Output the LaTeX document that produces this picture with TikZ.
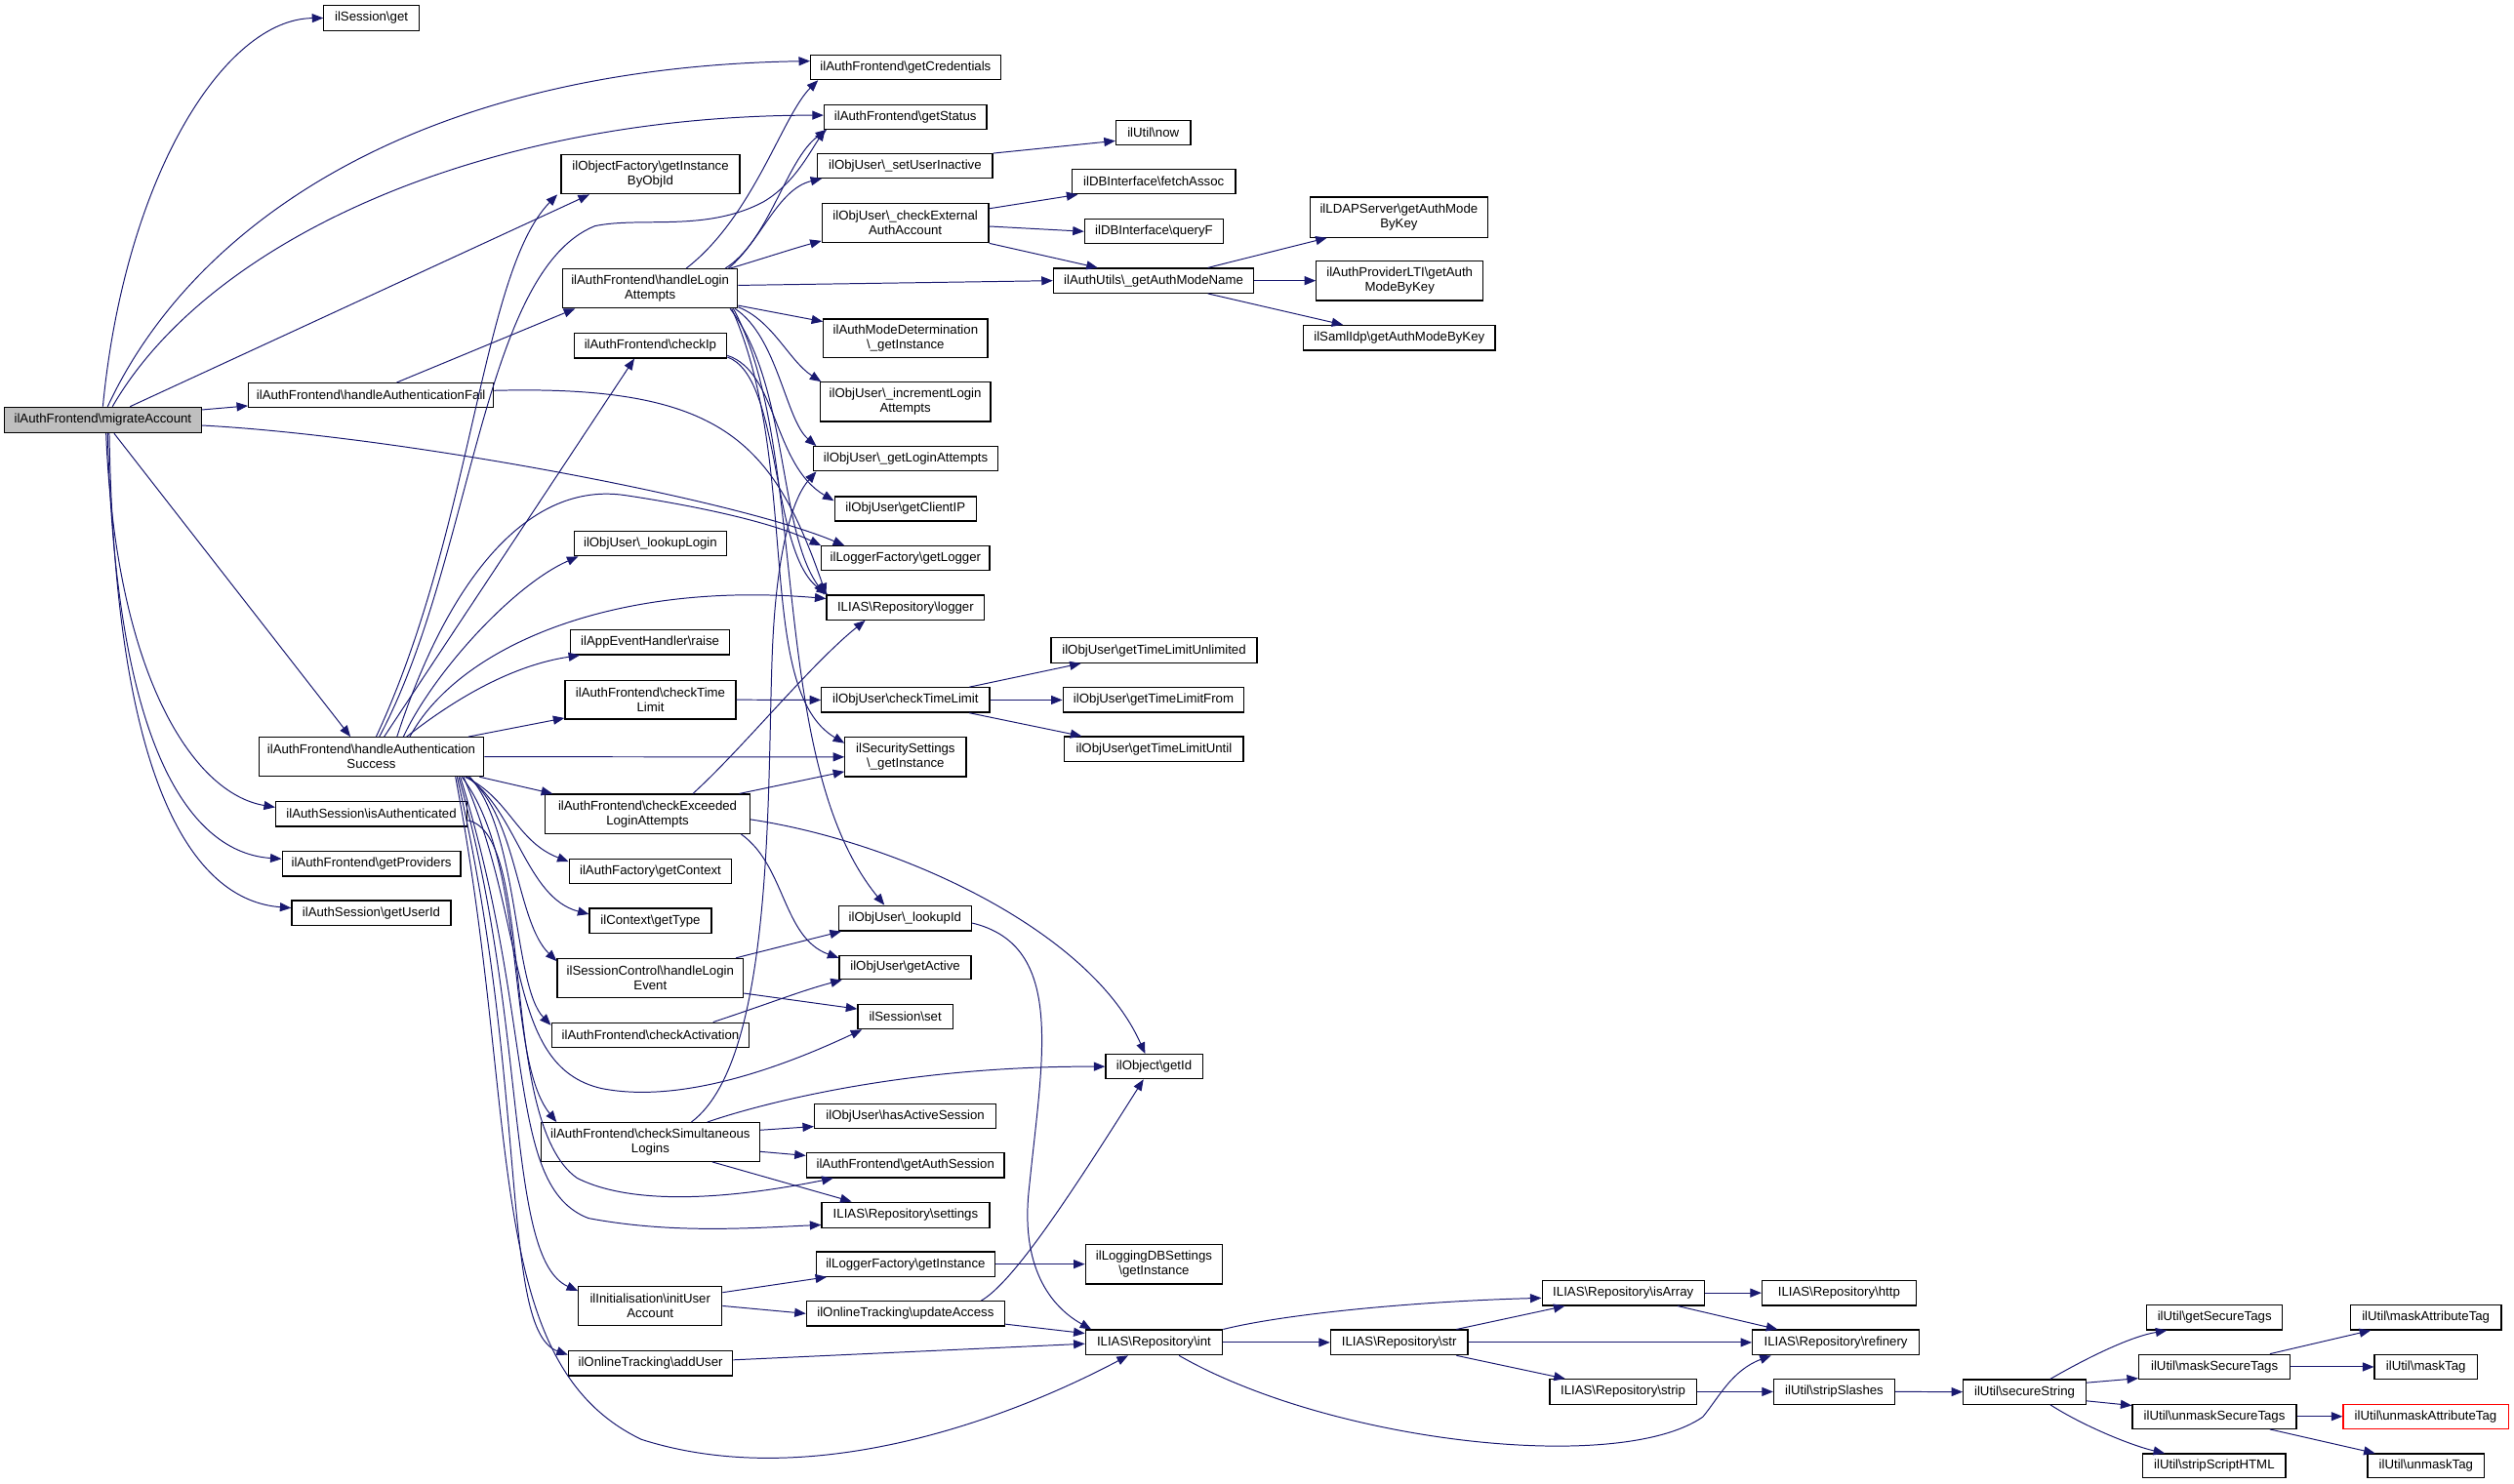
\documentclass[tikz,border=0pt]{standalone}
\usepackage{fontspec}
\setmainfont{Liberation Sans}
\usetikzlibrary{arrows.meta,calc}
\definecolor{edgec}{HTML}{191970}
\newcommand\BSL{\textbackslash}
\newcommand\bx[7][]{\pgfmathsetmacro\boxWd{#5-#3}\pgfmathsetmacro\boxHt{#6-#4}%
  \node[box,minimum width=\boxWd pt,minimum height=\boxHt pt,#1] (#2) at ({(#3+#5)/2},{(#4+#6)/2}) {#7};}
\tikzset{
  box/.style={draw=black,line width=0.75pt,fill=white,inner sep=0pt,align=center,
    font=\fontsize{8.05}{9.2}\selectfont},
  e/.style={draw=edgec,line width=0.6pt,-{Triangle[length=7pt,width=5.5pt]}},
}
\begin{document}
\begin{tikzpicture}[x=1pt,y=-1pt]
\useasboundingbox (0,0) rectangle (1568,925.8);
% ---------- nodes ----------
\bx[fill=black!25]{ma}{2.6}{254}{125.7}{270}{ilAuthFrontend\BSL migrateAccount}
\bx{sessGet}{202}{3.5}{261.3}{19}{ilSession\BSL get}
\bx{getCred}{505.6}{34.5}{624}{49.7}{ilAuthFrontend\BSL getCredentials}
\bx{getStatus}{514}{65.3}{615.4}{80.5}{ilAuthFrontend\BSL getStatus}
\bx{objFac}{350}{96.6}{461.4}{121}{ilObjectFactory\BSL getInstance\\ByObjId}
\bx{setInact}{510}{96}{619}{111}{ilObjUser\BSL\_setUserInactive}
\bx{now}{696}{75}{742.6}{90.5}{ilUtil\BSL now}
\bx{fetch}{668.6}{105.7}{770.6}{121}{ilDBInterface\BSL fetchAssoc}
\bx{checkExt}{512.7}{127}{616.6}{151.4}{ilObjUser\BSL\_checkExternal\\AuthAccount}
\bx{queryF}{676.5}{136.8}{763}{152}{ilDBInterface\BSL queryF}
\bx{ldap}{817}{123}{928}{148}{ilLDAPServer\BSL getAuthMode\\ByKey}
\bx{modeName}{657}{167.4}{782}{182.8}{ilAuthUtils\BSL\_getAuthModeName}
\bx{lti}{821}{162.7}{925}{187.5}{ilAuthProviderLTI\BSL getAuth\\ModeByKey}
\bx{saml}{813}{203}{932.5}{218.5}{ilSamlIdp\BSL getAuthModeByKey}
\bx{hla}{351}{167.8}{460}{192.2}{ilAuthFrontend\BSL handleLogin\\Attempts}
\bx{modeDet}{513.6}{199}{616}{223}{ilAuthModeDetermination\\\BSL\_getInstance}
\bx{checkIp}{358}{208}{453.3}{223.4}{ilAuthFrontend\BSL checkIp}
\bx{incLogin}{511.5}{238.5}{617.8}{263}{ilObjUser\BSL\_incrementLogin\\Attempts}
\bx{af}{155}{239}{307.8}{254.3}{ilAuthFrontend\BSL handleAuthenticationFail}
\bx{getLoginAtt}{507.5}{278.6}{622.3}{293.8}{ilObjUser\BSL\_getLoginAttempts}
\bx{clientIP}{520.5}{309.8}{609}{325}{ilObjUser\BSL getClientIP}
\bx{getLogger}{512.4}{340.7}{617.2}{356}{ilLoggerFactory\BSL getLogger}
\bx{lookupLogin}{358}{331.5}{453.3}{346.8}{ilObjUser\BSL\_lookupLogin}
\bx{logger}{515.6}{371.3}{614}{386.7}{ILIAS\BSL Repository\BSL logger}
\bx{raise}{356}{393}{455}{408.4}{ilAppEventHandler\BSL raise}
\bx{tlUnl}{655.6}{398}{784}{413.5}{ilObjUser\BSL getTimeLimitUnlimited}
\bx{checkTimeAF}{352.4}{424.5}{459}{448.6}{ilAuthFrontend\BSL checkTime\\Limit}
\bx{checkTimeOU}{512.4}{429}{617.2}{444.4}{ilObjUser\BSL checkTimeLimit}
\bx{tlFrom}{663}{429}{776}{444.4}{ilObjUser\BSL getTimeLimitFrom}
\bx{tlUntil}{664}{459.6}{775.5}{475}{ilObjUser\BSL getTimeLimitUntil}
\bx{has}{161.5}{460}{301.7}{484.3}{ilAuthFrontend\BSL handleAuthentication\\Success}
\bx{secSet}{527}{460}{602.6}{484.5}{ilSecuritySettings\\\BSL\_getInstance}
\bx{isAuth}{172}{500}{291.3}{515.6}{ilAuthSession\BSL isAuthenticated}
\bx{checkExc}{340}{495.5}{467.8}{520}{ilAuthFrontend\BSL checkExceeded\\LoginAttempts}
\bx{getProv}{176}{531.2}{287.3}{546.6}{ilAuthFrontend\BSL getProviders}
\bx{getContext}{355}{535.9}{456.4}{551.3}{ilAuthFactory\BSL getContext}
\bx{getUserId}{182}{561.8}{281.2}{577.5}{ilAuthSession\BSL getUserId}
\bx{lookupId}{523}{565}{606}{580.7}{ilObjUser\BSL\_lookupId}
\bx{getType}{367.7}{566.7}{443.7}{582}{ilContext\BSL getType}
\bx{getActive}{523.5}{596}{605.7}{611}{ilObjUser\BSL getActive}
\bx{loginEvent}{347.6}{598}{463.6}{622.3}{ilSessionControl\BSL handleLogin\\Event}
\bx{sessSet}{535}{626.8}{594.3}{642}{ilSession\BSL set}
\bx{checkAct}{344}{638}{467.4}{653.5}{ilAuthFrontend\BSL checkActivation}
\bx{getId}{689.6}{657.8}{750}{673}{ilObject\BSL getId}
\bx{hasActive}{508}{688.5}{621.3}{704}{ilObjUser\BSL hasActiveSession}
\bx{checkSim}{337.5}{700.4}{473.8}{724.5}{ilAuthFrontend\BSL checkSimultaneous\\Logins}
\bx{getAuthSess}{503}{719.3}{626.4}{734.7}{ilAuthFrontend\BSL getAuthSession}
\bx{settings}{512.5}{750}{617.2}{765.8}{ILIAS\BSL Repository\BSL settings}
\bx{lfInst}{509}{781}{620.6}{796.3}{ilLoggerFactory\BSL getInstance}
\bx{ldbs}{677}{776.3}{762.5}{801}{ilLoggingDBSettings\\\BSL getInstance}
\bx{initUser}{360.8}{802.7}{450.3}{826.7}{ilInitialisation\BSL initUser\\Account}
\bx{updAcc}{503}{811.8}{626.6}{827.2}{ilOnlineTracking\BSL updateAccess}
\bx{isArr}{961.8}{798.8}{1063}{814.4}{ILIAS\BSL Repository\BSL isArray}
\bx{http}{1099}{798.8}{1195}{814.4}{ILIAS\BSL Repository\BSL http}
\bx{intN}{677}{829.7}{762.5}{845.3}{ILIAS\BSL Repository\BSL int}
\bx{strN}{829.9}{829.7}{915.5}{845.3}{ILIAS\BSL Repository\BSL str}
\bx{refinery}{1093}{829.7}{1197}{845.3}{ILIAS\BSL Repository\BSL refinery}
\bx{addUser}{354.5}{842.6}{457}{858.2}{ilOnlineTracking\BSL addUser}
\bx{strip}{966.6}{860.5}{1058}{876}{ILIAS\BSL Repository\BSL strip}
\bx{stripSl}{1106.3}{860.5}{1181.8}{876}{ilUtil\BSL stripSlashes}
\bx{secStr}{1224.5}{860.7}{1301}{876}{ilUtil\BSL secureString}
\bx{getSecTags}{1338.9}{814.2}{1423.6}{829.6}{ilUtil\BSL getSecureTags}
\bx{maskSec}{1334}{845}{1428.4}{860.5}{ilUtil\BSL maskSecureTags}
\bx{unmaskSec}{1330}{876}{1432.3}{891.3}{ilUtil\BSL unmaskSecureTags}
\bx{stripScript}{1336.5}{907}{1425.6}{922}{ilUtil\BSL stripScriptHTML}
\bx{maskAttr}{1466}{814}{1560}{829.6}{ilUtil\BSL maskAttributeTag}
\bx{maskTag}{1481}{845}{1545}{860.5}{ilUtil\BSL maskTag}
\bx[draw=red]{unmaskAttr}{1461.4}{876}{1564.4}{891.3}{ilUtil\BSL unmaskAttributeTag}
\bx{unmaskTag}{1476.7}{907}{1549.5}{922}{ilUtil\BSL unmaskTag}
% ---------- edges: migrateAccount ----------
\draw[e] (ma.north) .. controls (78,110) and (140,12) .. (sessGet.west);
\draw[e] ([xshift=3]ma.north) .. controls (120,140) and (260,42) .. ([yshift=4]getCred.west);
\draw[e] ([xshift=6]ma.north) .. controls (130,150) and (300,72) .. ([yshift=1]getStatus.west);
\draw[e] ([xshift=17]ma.north) -- ([xshift=18]objFac.south west);
\draw[e] ([yshift=-2]ma.north east) -- ([yshift=1.5]af.south west);
\draw[e] ([yshift=-3.4]ma.east) .. controls (250,272) and (460,312) .. ([xshift=14.6]getLogger.north west);
\draw[e] ([xshift=7]ma.south) -- ([xshift=-13]has.north);
\draw[e] ([xshift=2]ma.south) .. controls (72,420) and (120,495) .. ([yshift=-4]isAuth.north west);
\draw[e] ([xshift=3]ma.south) .. controls (72,470) and (120,532) .. ([yshift=-5]getProv.north west);
\draw[e] ([xshift=4]ma.south) .. controls (72,500) and (125,562) .. ([yshift=-5]getUserId.north west);
% ---------- handleAuthenticationFail ----------
\draw[e] ([xshift=16]af.north) -- ([xshift=8]hla.south west);
\draw[e] ([yshift=3]af.east) .. controls (450,240) and (482,275) .. (logger.north west);
% ---------- handleLoginAttempts ----------
\draw[e] ([xshift=22.5]hla.north) .. controls (470,135) and (488,72) .. ([xshift=5]getCred.south west);
\draw[e] ([xshift=-8]hla.north east) .. controls (480,150) and (490,100) .. ([xshift=2]getStatus.south west);
\draw[e] ([xshift=-6]hla.north east) .. controls (475,150) and (485,118) .. ([xshift=3]setInact.south west);
\draw[e] ([xshift=-5]hla.north east) .. controls (480,160) and (495,155) .. ([yshift=1.5]checkExt.south west);
\draw[e] ([yshift=2]hla.east) -- (modeName.west);
\draw[e] ([yshift=2]hla.south east) -- ([yshift=-2]modeDet.north west);
\draw[e] ([yshift=1]hla.south east) .. controls (482,200) and (492,225) .. ([xshift=1]incLogin.north west);
\draw[e] ([xshift=-2]hla.south east) .. controls (485,210) and (490,262) .. ([xshift=2]getLoginAtt.north west);
\draw[e] ([xshift=-3]hla.south east) .. controls (505,280) and (478,475) .. ([xshift=29]lookupId.north west);
\draw[e] ([xshift=-4]hla.south east) .. controls (500,290) and (470,430) .. ([yshift=-4]secSet.north west);
\draw[e] ([xshift=-5]hla.south east) .. controls (492,240) and (485,330) .. ([xshift=-1]logger.north west);
% ---------- checkIp ----------
\draw[e] ([yshift=2]checkIp.south east) .. controls (485,232) and (482,290) .. ([yshift=-3]clientIP.north west);
\draw[e] ([yshift=1]checkIp.south east) .. controls (488,235) and (480,345) .. ([xshift=1]logger.north west);
% ---------- handleAuthenticationSuccess ----------
\draw[e] ([xshift=5]has.north) .. controls (295,350) and (300,170) .. (371,141) .. controls (400,135) and (440,145) .. (476,126) .. controls (495,115) and (505,95) .. ([xshift=1]getStatus.south west);
\draw[e] ([xshift=3]has.north) .. controls (295,330) and (300,170) .. ([xshift=-2]objFac.south west);
\draw[e] ([xshift=8]has.north) -- ([xshift=-10]checkIp.south);
\draw[e] ([xshift=16]has.north) .. controls (280,360) and (330,300) .. (390,309) .. controls (430,315) and (480,325) .. (getLogger.north west);
\draw[e] ([xshift=20]has.north) .. controls (270,420) and (320,365) .. ([xshift=3]lookupLogin.south west);
\draw[e] ([xshift=24]has.north) .. controls (285,405) and (380,362) .. ([yshift=-2.5]logger.north west);
\draw[e] ([xshift=22]has.north) .. controls (285,435) and (320,415) .. ([xshift=6]raise.south west);
\draw[e] ([xshift=-10]has.north east) -- ([yshift=1]checkTimeAF.south west);
\draw[e] (has.east) -- (secSet.west);
\draw[e] ([xshift=-3]has.south east) -- ([xshift=5]checkExc.north west);
\draw[e] ([xshift=-12]has.south east) .. controls (318,498) and (322,525) .. ([yshift=-2]getContext.north west);
\draw[e] ([xshift=-11]has.south east) .. controls (322,505) and (328,560) .. ([yshift=-4]getType.north west);
\draw[e] ([xshift=-10]has.south east) .. controls (323,510) and (322,575) .. ([yshift=-2]loginEvent.north west);
\draw[e] ([xshift=-9]has.south east) .. controls (324,520) and (320,615) .. ([yshift=-2]checkAct.north west);
\draw[e] ([xshift=-14]has.south east) .. controls (330,540) and (315,660) .. ([xshift=10]checkSim.north west);
\draw[e] ([xshift=-13]has.south east) .. controls (330,580) and (315,665) .. (375,679) .. controls (430,690) and (500,660) .. ([xshift=3]sessSet.south west);
\draw[e] ([xshift=-15]has.south east) .. controls (335,640) and (315,740) .. (367,760) .. controls (420,770) and (470,766) .. ([yshift=2]settings.south west);
\draw[e] ([xshift=-16]has.south east) .. controls (330,640) and (315,785) .. ([yshift=-3]initUser.north west);
\draw[e] ([xshift=-17]has.south east) .. controls (330,680) and (312,830) .. ([yshift=-3]addUser.north west);
\draw[e] ([xshift=-18]has.south east) .. controls (325,700) and (300,850) .. (400,898) .. controls (500,930) and (620,890) .. ([xshift=27]intN.south west);
% ---------- isAuthenticated ----------
\draw[e] ([yshift=-4]isAuth.east) .. controls (335,520) and (310,700) .. (360,735) .. controls (400,755) and (470,745) .. ([xshift=17]getAuthSess.south west);
% ---------- checkTimeLimit ----------
\draw[e] (checkTimeAF.east) -- (checkTimeOU.west);
\draw[e] ([xshift=-13]checkTimeOU.north east) -- ([xshift=19]tlUnl.south west);
\draw[e] (checkTimeOU.east) -- (tlFrom.west);
\draw[e] ([xshift=-13]checkTimeOU.south east) -- ([xshift=11]tlUntil.north west);
% ---------- checkExceededLoginAttempts ----------
\draw[e] ([xshift=-7]checkExc.north east) -- ([yshift=3.5]secSet.south west);
\draw[e] ([xshift=-36]checkExc.north east) .. controls (465,465) and (505,415) .. ([xshift=24.4]logger.south west);
\draw[e] ([xshift=-6]checkExc.south east) .. controls (490,540) and (488,585) .. ([yshift=-2]getActive.north west);
\draw[e] ([yshift=-3.5]checkExc.east) .. controls (560,525) and (680,580) .. ([xshift=25]getId.north west);
% ---------- checkSimultaneousLogins ----------
\draw[e] ([xshift=-43]checkSim.north east) .. controls (485,660) and (478,480) .. (482,400) .. controls (485,340) and (495,310) .. ([xshift=2]getLoginAtt.south west);
\draw[e] ([xshift=-33]checkSim.north east) .. controls (470,690) and (560,665) .. (getId.west);
\draw[e] ([yshift=-5]checkSim.north east) -- ([yshift=1.6]hasActive.south west);
\draw[e] ([yshift=-6]checkSim.east) -- ([yshift=-2]getAuthSess.north west);
\draw[e] ([xshift=-30]checkSim.south east) -- ([xshift=19]settings.north west);
% ---------- misc ----------
\draw[e] ([xshift=-23]checkAct.north east) .. controls (480,626) and (500,618) .. ([xshift=2]getActive.south west);
\draw[e] ([xshift=-5]loginEvent.north east) -- ([xshift=2]lookupId.south west);
\draw[e] ([yshift=3]loginEvent.south east) -- ([yshift=-3]sessSet.north west);
\draw[e] ([yshift=-3]lookupId.east) .. controls (665,590) and (650,660) .. (642,740) .. controls (636,790) and (655,815) .. ([xshift=4]intN.north west);
\draw[e] ([xshift=-15]updAcc.north east) .. controls (632,800) and (668,745) .. ([xshift=24]getId.south west);
\draw[e] ([yshift=1.5]updAcc.south east) -- ([yshift=-2.5]intN.north west);
\draw[e] ([yshift=2]addUser.east) -- ([yshift=-9]intN.north west);
\draw[e] ([yshift=-4]initUser.north east) -- ([xshift=7]lfInst.south west);
\draw[e] (initUser.east) -- (updAcc.west);
\draw[e] (lfInst.east) -- (ldbs.west);
% ---------- top right ----------
\draw[e] (setInact.north east) -- ([yshift=3]now.south west);
\draw[e] ([yshift=-3.5]checkExt.north east) -- ([xshift=4]fetch.south west);
\draw[e] ([yshift=-2]checkExt.east) -- (queryF.west);
\draw[e] (checkExt.south east) -- ([xshift=28]modeName.north west);
\draw[e] ([xshift=-29]modeName.north east) -- ([xshift=11]ldap.south west);
\draw[e] (modeName.east) -- (lti.west);
\draw[e] ([xshift=-29]modeName.south east) -- ([xshift=25]saml.north west);
% ---------- repository / util ----------
\draw[e] (intN.north east) .. controls (800,820) and (880,812) .. ([yshift=5]isArr.south west);
\draw[e] (intN.east) -- (strN.west);
\draw[e] ([xshift=-27.5]intN.south east) .. controls (830,900) and (1010,920) .. (1062,884) .. controls (1072,872) and (1080,855) .. ([xshift=12]refinery.south west);
\draw[e] ([xshift=-7.5]strN.north east) -- ([xshift=14.6]isArr.south west);
\draw[e] (strN.east) -- (refinery.west);
\draw[e] ([xshift=-7.5]strN.south east) -- ([xshift=10]strip.north west);
\draw[e] (isArr.east) -- (http.west);
\draw[e] ([xshift=-17]isArr.south east) -- ([xshift=16]refinery.north west);
\draw[e] (strip.east) -- (stripSl.west);
\draw[e] (stripSl.east) -- (secStr.west);
\draw[e] ([xshift=16]secStr.north) .. controls (1300,848) and (1328,834) .. ([xshift=13]getSecTags.south west);
\draw[e] ([yshift=-2.3]secStr.north east) -- ([yshift=1]maskSec.south west);
\draw[e] ([yshift=2.4]secStr.south east) -- ([yshift=-1.2]unmaskSec.north west);
\draw[e] ([xshift=16]secStr.south) .. controls (1300,890) and (1330,902) .. ([xshift=14]stripScript.north west);
\draw[e] ([xshift=-13]maskSec.north east) -- ([xshift=13]maskAttr.south west);
\draw[e] (maskSec.east) -- (maskTag.west);
\draw[e] (unmaskSec.east) -- (unmaskAttr.west);
\draw[e] ([xshift=-17]unmaskSec.south east) -- ([xshift=5]unmaskTag.north west);
\end{tikzpicture}
\end{document}
